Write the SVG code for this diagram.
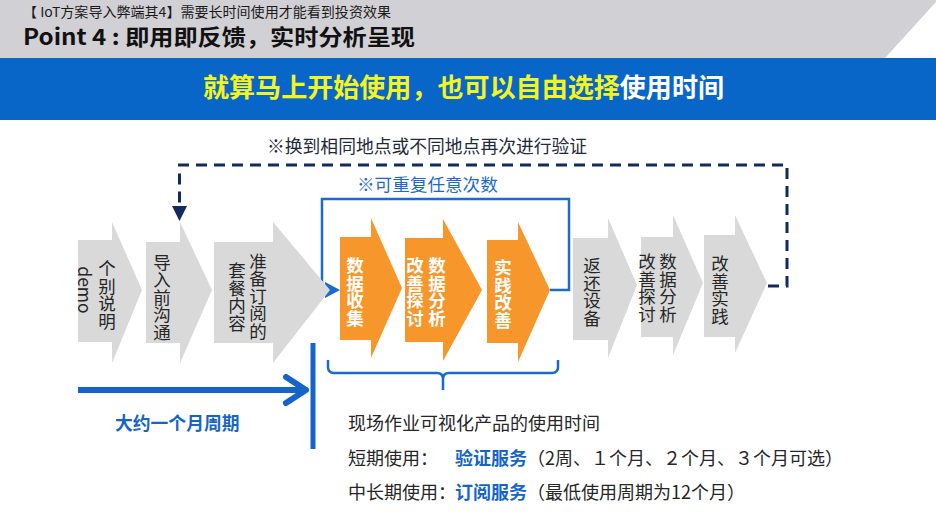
<svg xmlns="http://www.w3.org/2000/svg" width="936" height="514" viewBox="0 0 936 514">
  <style>
    .cjk { font-family: "Noto Sans CJK SC", "Noto Sans", sans-serif; }
    .gray-arrow { fill: #d9d9d9; }
    .orange-arrow { fill: #f7962b; }
    .vt { font-family: "Noto Sans CJK SC", "Noto Sans", sans-serif; font-size: 17.5px; writing-mode: vertical-rl; text-anchor: middle; }
    .vt-gray { fill: #262626; }
    .vt-white { fill: #ffffff; font-weight: bold; }
    .body { font-family: "Noto Sans CJK SC", "Noto Sans", sans-serif; font-size: 18px; fill: #262626; }
    .blue-b { fill: #1565c8; font-weight: bold; }
    .loop { fill: none; stroke: #1a6ad0; stroke-width: 2.5; }
    .dash { fill: none; stroke: #0f2b5f; stroke-width: 3; stroke-dasharray: 11 7; }
  </style>

  <!-- header -->
  <g id="header">
    <rect x="0" y="0" width="936" height="58" fill="#d1d0d5"/>
    <polygon points="885,58 936,58 936,2" fill="#ffffff"/>
    <text class="cjk" x="23" y="17" font-size="13.5" fill="#1a1a1a" textLength="368" lengthAdjust="spacingAndGlyphs">【 IoT方案导入弊端其4】需要长时间使用才能看到投资效果</text>
    <text class="cjk" x="23" y="45" font-size="22" font-weight="bold" fill="#111111" textLength="392" lengthAdjust="spacingAndGlyphs">Point 4 : 即用即反馈，实时分析呈现</text>
  </g>

  <g id="banner">
    <rect x="0" y="58" width="936" height="62" fill="#0866c9"/>
    <text class="cjk" x="203" y="97" font-size="26" font-weight="bold" textLength="521" lengthAdjust="spacingAndGlyphs"><tspan fill="#f5f51e">就算马上开始使用，也可以自由选择</tspan><tspan fill="#ffffff">使用时间</tspan></text>
  </g>

  <!-- connectors -->
  <g id="connectors">
    <!-- dashed re-verification loop -->
    <path class="dash" d="M768,286 H787 V165 H179.5 V207"/>
    <polygon points="172,206 187,206 179.5,221" fill="#0f2b5f"/>
    <!-- repeatable loop -->
    <path class="loop" d="M550,290 H569 V199 H322 V290 H328"/>
    <polygon points="325,282 340,290 325,298" fill="#1a6ad0"/>
    <!-- brace -->
    <path class="loop" d="M328,360 V367 Q328,373 334,373 H437 Q443,373 443,379 V390 M443,379 Q443,373 449,373 H552 Q558,373 558,367 V360"/>
    <!-- timeline -->
    <line x1="78" y1="390" x2="304" y2="390" stroke="#1565c8" stroke-width="6"/>
    <polyline points="286,377 306,390 286,403" fill="none" stroke="#1565c8" stroke-width="6" stroke-linecap="round" stroke-linejoin="round"/>
    <line x1="313" y1="343" x2="313" y2="449" stroke="#1565c8" stroke-width="5"/>
  </g>

  <!-- left grey arrows -->
  <g id="n-demo">
    <path class="gray-arrow" d="M78,240 H112 V222 L142,290 L112,363 V342 H78 Z"/>
    <text class="vt vt-gray" x="107" y="295">个别说明</text>
    <text class="vt vt-gray" x="85" y="290">demo</text>
  </g>
  <g id="n-pre">
    <path class="gray-arrow" d="M146,242 H180 V222 L212,290 L180,363 V343 H146 Z"/>
    <text class="vt vt-gray" x="162" y="297">导入前沟通</text>
  </g>
  <g id="n-plan">
    <path class="gray-arrow" d="M214,242 H273 V222 L330,290 L273,363 V343 H214 Z"/>
    <text class="vt vt-gray" x="258" y="296">准备订阅的</text>
    <text class="vt vt-gray" x="237" y="297">套餐内容</text>
  </g>

  <!-- orange arrows -->
  <g id="n-collect">
    <path class="orange-arrow" d="M340,237 H371 V218 L402,288 L371,358 V340 H340 Z"/>
    <text class="vt vt-white" x="355" y="292">数据收集</text>
  </g>
  <g id="n-analyze">
    <path class="orange-arrow" d="M405,238 H443 V219 L482,290 L443,361 V342 H405 Z"/>
    <text class="vt vt-white" x="437" y="292">数据分析</text>
    <text class="vt vt-white" x="415" y="292">改善探讨</text>
  </g>
  <g id="n-practice">
    <path class="orange-arrow" d="M487,240 H518 V222 L550,290 L518,362 V343 H487 Z"/>
    <text class="vt vt-white" x="503" y="294">实践改善</text>
  </g>

  <!-- right grey arrows -->
  <g id="n-return">
    <path class="gray-arrow" d="M573,238 H608 V218 L637,285 L608,358 V340 H573 Z"/>
    <text class="vt vt-gray" x="592" y="292">返还设备</text>
  </g>
  <g id="n-analyze2">
    <path class="gray-arrow" d="M641,237 H673 V215 L703,283 L673,355 V337 H641 Z"/>
    <text class="vt vt-gray" x="668" y="288">数据分析</text>
    <text class="vt vt-gray" x="647" y="288">改善探讨</text>
  </g>
  <g id="n-practice2">
    <path class="gray-arrow" d="M704,235 H735 V215 L767,283 L735,353 V337 H704 Z"/>
    <text class="vt vt-gray" x="720" y="290">改善实践</text>
  </g>

  <!-- labels -->
  <g id="labels">
    <text class="cjk" x="267" y="153" font-size="17.8" fill="#1e2a3a">※换到相同地点或不同地点再次进行验证</text>
    <text class="cjk" x="357" y="191" font-size="17.6" fill="#1a6ad0">※可重复任意次数</text>
    <text class="cjk" x="115" y="430" font-size="17.8" font-weight="bold" fill="#1565c8">大约一个月周期</text>
    <text class="body" x="348" y="430">现场作业可视化产品的使用时间</text>
    <text class="body" x="348" y="465">短期使用：</text>
    <text class="body" x="455" y="465"><tspan class="blue-b">验证服务</tspan><tspan>（2周、１个月、２个月、３个月可选）</tspan></text>
    <text class="body" x="348" y="499">中长期使用：<tspan x="455" class="blue-b">订阅服务</tspan><tspan>（最低使用周期为12个月）</tspan></text>
  </g>
</svg>
